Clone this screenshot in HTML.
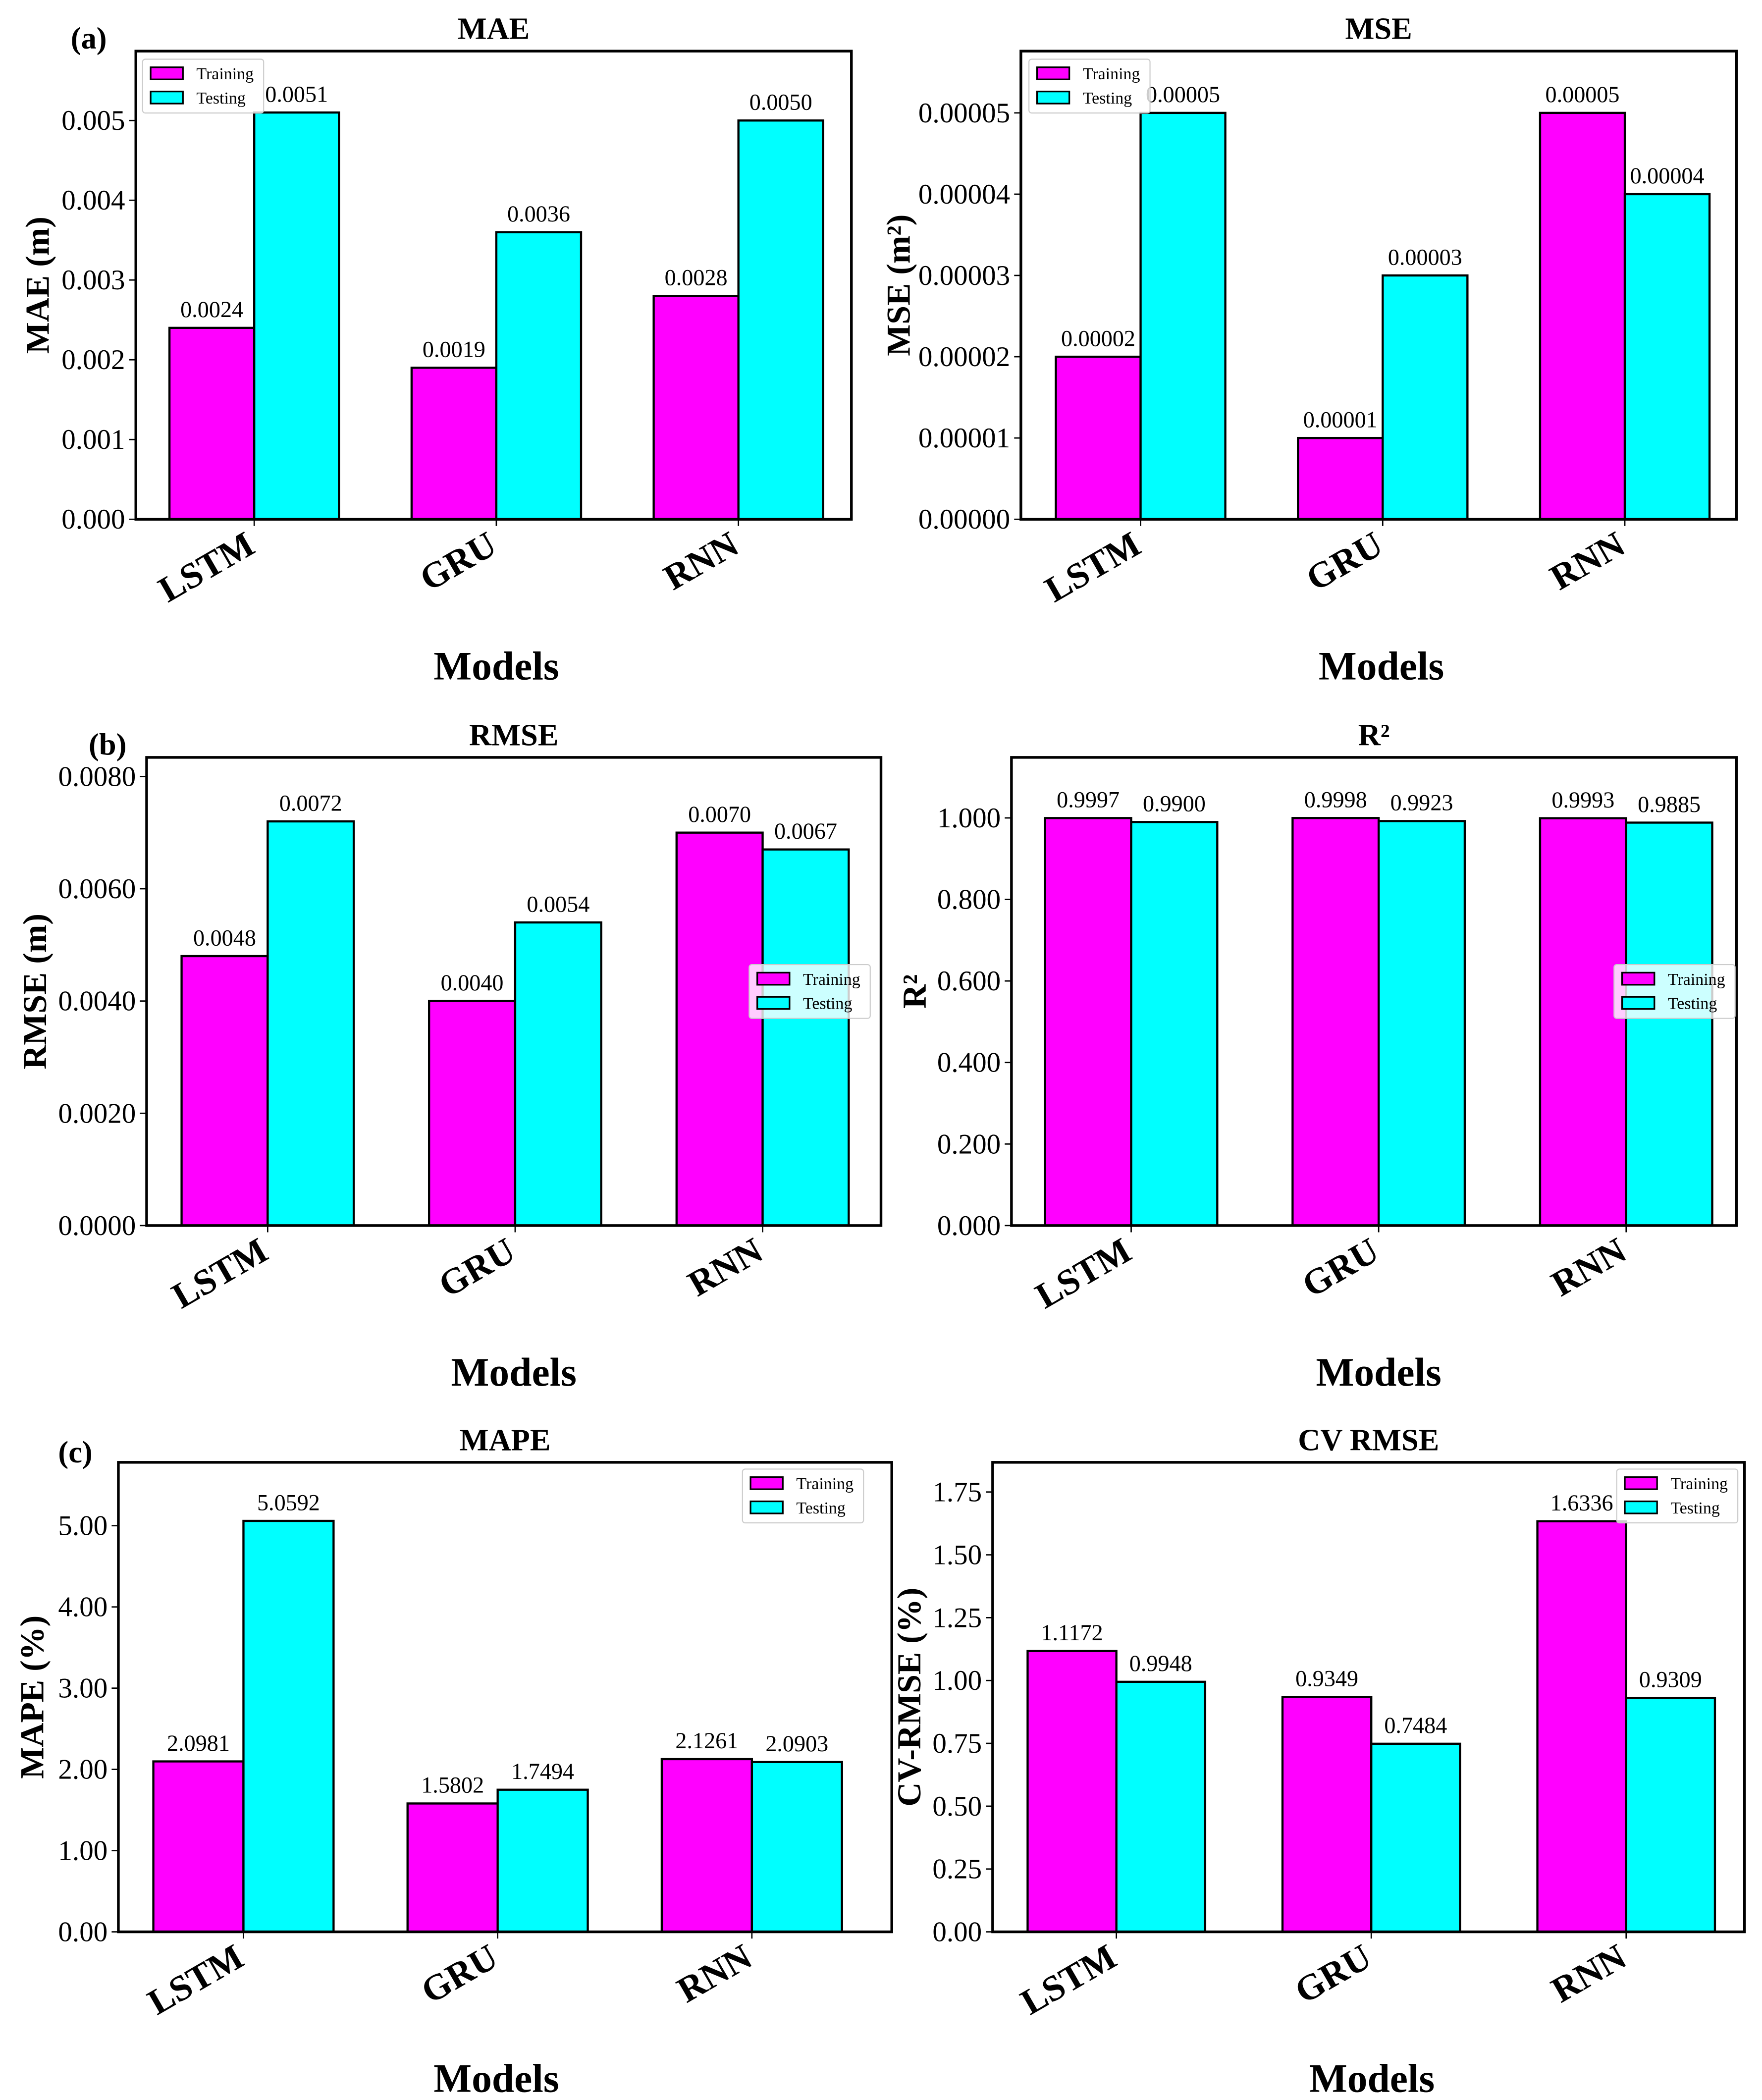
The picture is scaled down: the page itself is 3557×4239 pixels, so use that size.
<!DOCTYPE html>
<html><head><meta charset="utf-8"><style>
html,body{margin:0;padding:0;background:#fff;}
svg{display:block;}
svg text{font-family:"Liberation Serif","DejaVu Serif",serif;}
</style></head><body>
<svg id="fig" width="3557" height="4239" viewBox="0 0 1310 1561" preserveAspectRatio="none" xmlns="http://www.w3.org/2000/svg"></svg>
<script>
const categories = ["LSTM","GRU","RNN"];
const maeTrain = [0.0024,0.0019,0.0028];
const maeTest = [0.0051,0.0036,0.0050];
const maeTrainLbl = ["0.0024","0.0019","0.0028"];
const maeTestLbl = ["0.0051","0.0036","0.0050"];
const maeTicks = [0,0.001,0.002,0.003,0.004,0.005];
const maeTickLbl = ["0.000","0.001","0.002","0.003","0.004","0.005"];
const mseTrain = [0.00002,0.00001,0.00005];
const mseTest = [0.00005,0.00003,0.00004];
const mseTrainLbl = ["0.00002","0.00001","0.00005"];
const mseTestLbl = ["0.00005","0.00003","0.00004"];
const mseTicks = [0,0.00001,0.00002,0.00003,0.00004,0.00005];
const mseTickLbl = ["0.00000","0.00001","0.00002","0.00003","0.00004","0.00005"];
const rmseTrain = [0.0048,0.0040,0.0070];
const rmseTest = [0.0072,0.0054,0.0067];
const rmseTrainLbl = ["0.0048","0.0040","0.0070"];
const rmseTestLbl = ["0.0072","0.0054","0.0067"];
const rmseTicks = [0,0.002,0.004,0.006,0.008];
const rmseTickLbl = ["0.0000","0.0020","0.0040","0.0060","0.0080"];
const r2Train = [0.9997,0.9998,0.9993];
const r2Test = [0.9900,0.9923,0.9885];
const r2TrainLbl = ["0.9997","0.9998","0.9993"];
const r2TestLbl = ["0.9900","0.9923","0.9885"];
const r2Ticks = [0,0.2,0.4,0.6,0.8,1.0];
const r2TickLbl = ["0.000","0.200","0.400","0.600","0.800","1.000"];
const mapeTrain = [2.0981,1.5802,2.1261];
const mapeTest = [5.0592,1.7494,2.0903];
const mapeTrainLbl = ["2.0981","1.5802","2.1261"];
const mapeTestLbl = ["5.0592","1.7494","2.0903"];
const mapeTicks = [0,1,2,3,4,5];
const mapeTickLbl = ["0.00","1.00","2.00","3.00","4.00","5.00"];
const cvTrain = [1.1172,0.9349,1.6336];
const cvTest = [0.9948,0.7484,0.9309];
const cvTrainLbl = ["1.1172","0.9349","1.6336"];
const cvTestLbl = ["0.9948","0.7484","0.9309"];
const cvTicks = [0,0.25,0.5,0.75,1.0,1.25,1.5,1.75];
const cvTickLbl = ["0.00","0.25","0.50","0.75","1.00","1.25","1.50","1.75"];

const NS="http://www.w3.org/2000/svg";
const svg=document.getElementById('fig');
function mk(tag,attrs,parent,text){const e=document.createElementNS(NS,tag);for(const k in attrs)e.setAttribute(k,attrs[k]);if(text!==undefined)e.textContent=text;(parent||svg).appendChild(e);return e;}

const panels=[
 {id:'mae',x0:101,x1:633,y0:38,y1:386,ymax:0.00587,c0:189,dc:180,bw:63,tr:maeTrain,te:maeTest,trl:maeTrainLbl,tel:maeTestLbl,ticks:maeTicks,tl:maeTickLbl,title:'MAE',ylab:'MAE (m)',ylx:28,leg:[106,44],tag:'(a)',tagp:[66,36],mx:369,my:505},
 {id:'mse',x0:759,x1:1291,y0:38,y1:386,ymax:0.0000576,c0:848,dc:180,bw:63,tr:mseTrain,te:mseTest,trl:mseTrainLbl,tel:mseTestLbl,ticks:mseTicks,tl:mseTickLbl,title:'MSE',ylab:'MSE (m²)',ylx:668,leg:[765,44],mx:1027,my:505},
 {id:'rmse',x0:109,x1:655,y0:563,y1:911,ymax:0.00834,c0:199,dc:184,bw:64,tr:rmseTrain,te:rmseTest,trl:rmseTrainLbl,tel:rmseTestLbl,ticks:rmseTicks,tl:rmseTickLbl,title:'RMSE',ylab:'RMSE (m)',ylx:26,leg:[557,717],tag:'(b)',tagp:[80,561],mx:382,my:1030},
 {id:'r2',x0:752,x1:1291,y0:563,y1:911,ymax:1.1485,c0:841,dc:184,bw:64,tr:r2Train,te:r2Test,trl:r2TrainLbl,tel:r2TestLbl,ticks:r2Ticks,tl:r2TickLbl,title:'R²',ylab:'R²',ylx:680,leg:[1200,717],mx:1025,my:1030},
 {id:'mape',x0:88,x1:663,y0:1087,y1:1436,ymax:5.78,c0:181,dc:189,bw:67,tr:mapeTrain,te:mapeTest,trl:mapeTrainLbl,tel:mapeTestLbl,ticks:mapeTicks,tl:mapeTickLbl,title:'MAPE',ylab:'MAPE (%)',ylx:24,leg:[552,1092],tag:'(c)',tagp:[56,1087],mx:369,my:1555},
 {id:'cv',x0:738,x1:1297,y0:1087,y1:1436,ymax:1.868,c0:830,dc:189.5,bw:66,tr:cvTrain,te:cvTest,trl:cvTrainLbl,tel:cvTestLbl,ticks:cvTicks,tl:cvTickLbl,title:'CV RMSE',ylab:'CV-RMSE (%)',ylx:676,leg:[1202,1092],mx:1020,my:1555}
];

panels.forEach(p=>{
  const g=mk('g',{});
  
  
  const yS=v=>p.y1-(v/p.ymax)*(p.y1-p.y0);
  const xS=i=>p.c0+i*p.dc;
  categories.forEach((c,i)=>{
    const cx=xS(i);
    const b1=mk('rect',{x:cx-p.bw,y:yS(p.tr[i]),width:p.bw,height:p.y1-yS(p.tr[i]),fill:'#ff00ff',stroke:'#000','stroke-width':1.6},g);
    
    
    const b2=mk('rect',{x:cx,y:yS(p.te[i]),width:p.bw,height:p.y1-yS(p.te[i]),fill:'#00ffff',stroke:'#000','stroke-width':1.6},g);
    
    
    const l1=mk('text',{x:cx-p.bw/2,y:yS(p.tr[i])-8,'text-anchor':'middle','font-size':17},g,p.trl[i]);
    
    
    const l2=mk('text',{x:cx+p.bw/2,y:yS(p.te[i])-8,'text-anchor':'middle','font-size':17},g,p.tel[i]);
    
    
    mk('line',{x1:cx,x2:cx,y1:p.y1,y2:p.y1+5,stroke:'#000','stroke-width':1},g);
    const ct=mk('text',{x:cx+2,y:p.y1+24,'text-anchor':'end','font-size':27,'font-weight':'bold',transform:`rotate(-30 ${cx+2} ${p.y1+24})`},g,c);
    
    
  });
  const fr=mk('rect',{x:p.x0,y:p.y0,width:p.x1-p.x0,height:p.y1-p.y0,fill:'none',stroke:'#000','stroke-width':2},g);
  
  
  p.ticks.forEach((t,k)=>{
    const y=yS(t);
    mk('line',{x1:p.x0-5,x2:p.x0,y1:y,y2:y,stroke:'#000','stroke-width':1},g);
    const tt=mk('text',{x:p.x0-8,y:y+7,'text-anchor':'end','font-size':21},g,p.tl[k]);
    
    
  });
  const ti=mk('text',{x:(p.x0+p.x1)/2,y:p.y0-9,'text-anchor':'middle','font-size':23,'font-weight':'bold'},g,p.title);
  
  
  const yc=(p.y0+p.y1)/2;
  const yl=mk('text',{x:p.ylx,y:yc,'text-anchor':'middle','font-size':25,'font-weight':'bold',transform:`rotate(-90 ${p.ylx} ${yc})`,'dominant-baseline':'central'},g,p.ylab);
  
  
  const xl=mk('text',{x:p.mx,y:p.my,'text-anchor':'middle','font-size':30,'font-weight':'bold'},g,'Models');
  
  
  if(p.tag){
    const tg=mk('text',{x:p.tagp[0],y:p.tagp[1],'text-anchor':'middle','font-size':23,'font-weight':'bold'},g,p.tag);
    
    
  }
  const [lx,ly]=p.leg;
  const lg=mk('g',{},g);
  
  
  mk('rect',{x:lx,y:ly,width:90,height:40,rx:2,fill:'rgba(255,255,255,0.8)',stroke:'#ccc','stroke-width':0.8},lg);
  [['Training','#ff00ff'],['Testing','#00ffff']].forEach(([n,col],k)=>{
    const e=mk('g',{},lg);
    
    
    mk('rect',{x:lx+6,y:ly+6+k*18,width:24,height:9,fill:col,stroke:'#000','stroke-width':1.2},e);
    mk('text',{x:lx+40,y:ly+15+k*18,'font-size':12.5},e,n);
  });
});
</script>
</body></html>
